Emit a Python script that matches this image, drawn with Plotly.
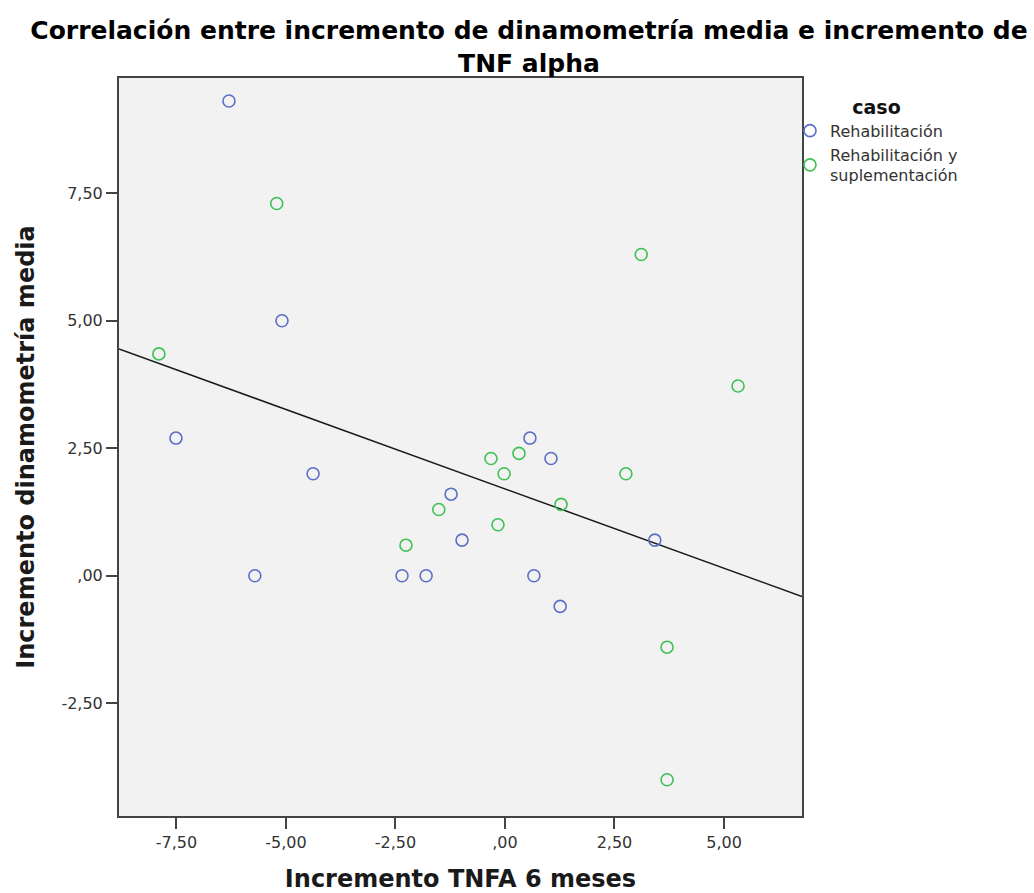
import numpy as np
import plotly.graph_objects as go

# Data
rehab_x = [-6.30, -5.09, -7.51, -4.38, -5.71, -2.35, -1.80, -1.23, -0.98, 0.57, 1.05, 0.66, 1.26, 3.42]
rehab_y = [9.31, 5.00, 2.70, 2.00, 0.00, 0.00, 0.00, 1.60, 0.70, 2.70, 2.30, 0.00, -0.60, 0.70]

sup_x = [-7.90, -5.21, 3.11, 5.32, -0.32, 0.32, -0.02, 2.76, 1.28, -1.51, -0.16, -2.26, 3.70, 3.70]
sup_y = [4.35, 7.30, 6.30, 3.72, 2.30, 2.40, 2.00, 2.00, 1.40, 1.30, 1.00, 0.60, -1.40, -4.00]

x_tickvals = [-7.5, -5.0, -2.5, 0.0, 2.5, 5.0]
x_ticktext = ["-7,50", "-5,00", "-2,50", ",00", "2,50", "5,00"]
y_tickvals = [-2.5, 0.0, 2.5, 5.0, 7.5]
y_ticktext = ["-2,50", ",00", "2,50", "5,00", "7,50"]

x_range = [-8.81, 6.78]
y_range = [-4.71, 9.76]

# Fit line at total
all_x = np.array(rehab_x + sup_x)
all_y = np.array(rehab_y + sup_y)
slope, intercept = np.polyfit(all_x, all_y, 1)
line_x = np.array(x_range)
line_y = slope * line_x + intercept

blue = "#5b6fc7"
green = "#3fc154"

fig = go.Figure()
fig.add_trace(go.Scatter(
    x=line_x, y=line_y, mode="lines",
    line=dict(color="#1a1a1a", width=1.5),
    showlegend=False, hoverinfo="skip"))
fig.add_trace(go.Scatter(
    x=rehab_x, y=rehab_y, mode="markers", name="Rehabilitación",
    marker=dict(symbol="circle-open", size=12, color=blue, line=dict(width=1.6, color=blue))))
fig.add_trace(go.Scatter(
    x=sup_x, y=sup_y, mode="markers", name="Rehabilitación y<br>suplementación",
    marker=dict(symbol="circle-open", size=12, color=green, line=dict(width=1.6, color=green))))

axis_common = dict(
    showgrid=False, zeroline=False, showline=True, mirror=True,
    linecolor="#444444", linewidth=2, automargin=False,
    ticks="outside", ticklen=11, tickwidth=2, tickcolor="#444444",
    tickfont=dict(family="DejaVu Sans", size=16, color="#333333"),
)

fig.update_layout(
    width=1034, height=893,
    paper_bgcolor="white", plot_bgcolor="#f2f2f2",
    margin=dict(l=119, r=232, t=78, b=77, autoexpand=False),
    title=dict(
        text="Correlación entre incremento de dinamometría media e incremento de<br>TNF alpha",
        x=529 / 1034, xanchor="center", xref="container",
        y=1 - 39 / 893, yanchor="top", yref="container",
        font=dict(family="DejaVu Sans", size=25, color="black", weight="bold"),
    ),
    xaxis=dict(
        range=x_range, tickvals=x_tickvals, ticktext=x_ticktext,
        title=dict(text="Incremento TNFA 6 meses", standoff=21,
                   font=dict(family="DejaVu Sans", size=24, color="#1a1a1a", weight="bold")),
        **axis_common),
    yaxis=dict(
        range=y_range, tickvals=y_tickvals, ticktext=y_ticktext,
        title=dict(text="Incremento dinamometría media", standoff=20,
                   font=dict(family="DejaVu Sans", size=24, color="#1a1a1a", weight="bold")),
        **axis_common),
    legend=dict(
        x=1 - 12 / 683, xanchor="left", y=0.985, yanchor="top",
        bgcolor="rgba(0,0,0,0)",
        title=dict(text="caso", side="top center",
                   font=dict(family="DejaVu Sans", size=19, color="#111111", weight="bold")),
        font=dict(family="DejaVu Sans", size=16, color="#333333"),
        tracegroupgap=0,
    ),
    showlegend=True,
)

fig.write_html(
    "out.html",
    config={"displayModeBar": False},
    post_script="document.body.style.margin='0';document.body.style.overflow='hidden';",
)
